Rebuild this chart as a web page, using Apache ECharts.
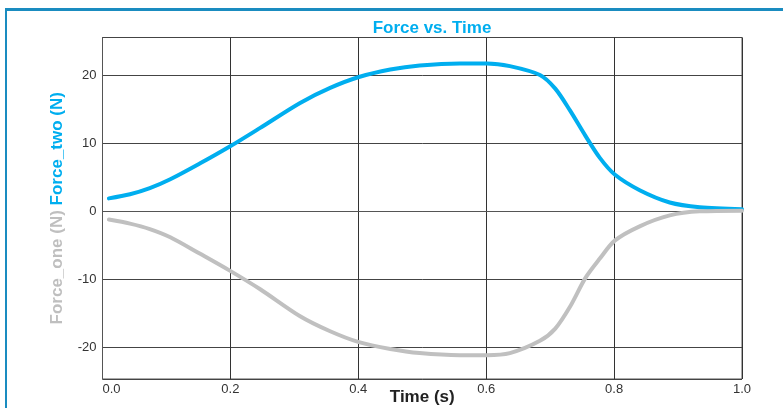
<!DOCTYPE html>
<html>
<head>
<meta charset="utf-8">
<script src="https://cdn.jsdelivr.net/npm/echarts@6/dist/echarts.min.js"></script>
<style>
html, body { margin: 0; padding: 0; background: #fff; overflow: hidden; }
#frame { position: absolute; left: 5px; top: 8px; width: 900px; height: 500px;
  border-left: 2px solid #1a8cc0; border-top: 3px solid #1a8cc0; }
#chart { position: absolute; left: 0; top: 0; width: 783px; height: 408px; }
</style>
</head>
<body>
<div id="frame"></div>
<div id="chart"></div>
<script>
// Time samples (s)
const time = [0.01, 0.043, 0.074, 0.106, 0.152, 0.199, 0.246, 0.309, 0.356, 0.401, 0.450, 0.496, 0.559, 0.601, 0.637, 0.684, 0.708, 0.731, 0.755, 0.778, 0.801, 0.840, 0.887, 0.934, 1.0];
// Force_two (N)
const forceTwo = [1.9, 2.5, 3.4, 4.7, 7.0, 9.5, 12.2, 15.9, 18.1, 19.7, 20.8, 21.4, 21.7, 21.7, 21.3, 20.0, 18.0, 14.8, 11.1, 7.8, 5.4, 3.1, 1.3, 0.6, 0.3];
// Force_one (N)
const forceOne = [-1.2, -1.8, -2.6, -3.8, -6.2, -8.7, -11.4, -15.4, -17.6, -19.2, -20.2, -20.8, -21.1, -21.1, -20.8, -19.0, -17.2, -14.0, -9.8, -6.9, -4.3, -2.2, -0.6, 0.0, 0.1];
const xTicks = [0.0, 0.2, 0.4, 0.6, 0.8, 1.0];

const font = '"Liberation Sans", Arial, Helvetica, sans-serif';
const chart = echarts.init(document.getElementById('chart'), null, {renderer: 'canvas'});
chart.setOption({
  animation: false,
  title: {
    text: 'Force vs. Time',
    left: 427, top: 15, textAlign: 'center',
    textStyle: { color: '#00aeef', fontSize: 17, fontWeight: 'bold', fontFamily: font }
  },
  grid: { left: 102.5, right: 41, top: 37.5, bottom: 29, show: true, borderColor: '#555', borderWidth: 1,
    containLabel: false, outerBoundsMode: 'none' },
  xAxis: {
    type: 'value', min: xTicks[0], max: xTicks[xTicks.length - 1], interval: 0.2,
    name: 'Time (s)', nameLocation: 'middle', nameGap: 10, nameMoveOverlap: false,
    nameTextStyle: { color: '#222', fontSize: 17, fontWeight: 'bold', fontFamily: font, verticalAlign: 'top' },
    axisLine: { show: true, lineStyle: { color: '#555', width: 1 } },
    axisTick: { show: false },
    axisLabel: { color: '#333', fontSize: 13, fontFamily: font, margin: 4, alignMinLabel: 'left',
      formatter: v => v.toFixed(1) },
    splitLine: { show: true, lineStyle: { color: '#333', width: 1 } }
  },
  yAxis: {
    type: 'value', min: -24.6, max: 25.5, splitNumber: 5,
    name: '{a|Force_one (N)} {b|Force_two (N)}',
    nameLocation: 'middle', nameRotate: 90, nameGap: 37, nameMoveOverlap: false,
    nameTextStyle: {
      fontSize: 17, fontWeight: 'bold', fontFamily: font,
      rich: {
        a: { color: '#bfbfbf', fontSize: 17, fontWeight: 'bold', fontFamily: font },
        b: { color: '#00aeef', fontSize: 17, fontWeight: 'bold', fontFamily: font }
      }
    },
    axisLine: { show: true, lineStyle: { color: '#555', width: 1 } },
    axisTick: { show: false },
    axisLabel: { color: '#333', fontSize: 13, fontFamily: font, margin: 6, showMinLabel: false, showMaxLabel: false,
      formatter: v => (Math.abs(v % 10) < 1e-9 ? String(v) : '') },
    splitLine: { show: true, lineStyle: { color: '#444', width: 1 } }
  },
  series: [
    {
      name: 'Force_two', type: 'line', smooth: 0.3, showSymbol: false,
      data: time.map((t, i) => [t, forceTwo[i]]),
      lineStyle: { color: '#00aeef', width: 4, cap: 'round' }, z: 2
    },
    {
      name: 'Force_one', type: 'line', smooth: 0.3, showSymbol: false,
      data: time.map((t, i) => [t, forceOne[i]]),
      lineStyle: { color: '#c0c0c0', width: 4, cap: 'round' }, z: 3
    }
  ]
});
</script>
</body>
</html>
